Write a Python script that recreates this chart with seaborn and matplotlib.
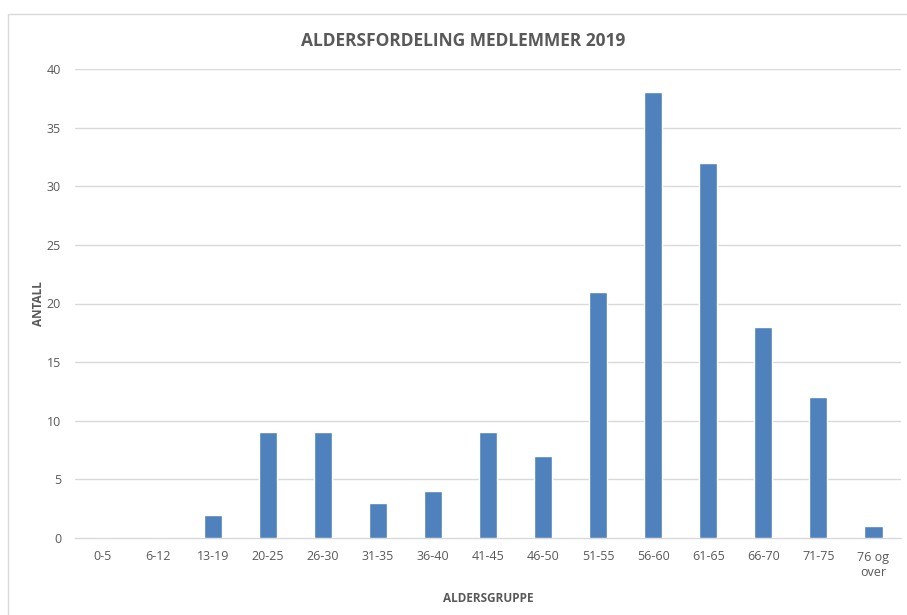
import matplotlib
matplotlib.use('Agg')
import matplotlib.pyplot as plt
import matplotlib.patches as patches
import pandas as pd
import seaborn as sns

categories = ['0-5', '6-12', '13-19', '20-25', '26-30', '31-35', '36-40', '41-45',
              '46-50', '51-55', '56-60', '61-65', '66-70', '71-75', '76 og\nover']
values = [0, 0, 2, 9, 9, 3, 4, 9, 7, 21, 38, 32, 18, 12, 1]
yticks = [0, 5, 10, 15, 20, 25, 30, 35, 40]

sns.set_theme(style="white")
plt.rcParams['font.family'] = ['Open Sans', 'DejaVu Sans']

df = pd.DataFrame({'Aldersgruppe': categories, 'Antall': values})

fig = plt.figure(figsize=(9.07, 6.15), dpi=100)
ax = fig.add_axes([75/907, 1 - 538/615, 826/907, (538 - 69)/615])

sns.barplot(data=df, x='Aldersgruppe', y='Antall', color='#4F81BD', saturation=1,
            width=0.33, ax=ax, zorder=3)

ax.set_xlim(-0.5, len(categories) - 0.5)
ax.set_ylim(0, 40)
ax.set_yticks(yticks)
for y in yticks[1:]:
    ax.axhline(y, color='#D9D9D9', lw=1, zorder=1)

for s in ['top', 'right', 'left']:
    ax.spines[s].set_visible(False)
ax.spines['bottom'].set_color('#D9D9D9')
ax.spines['bottom'].set_linewidth(1)

ax.tick_params(axis='both', length=0, labelsize=9, labelcolor='#595959')
ax.tick_params(axis='y', pad=10)
ax.tick_params(axis='x', pad=9)

ax.set_xlabel('ALDERSGRUPPE', fontsize=8.5, fontweight='bold', color='#595959', labelpad=10)
ax.set_ylabel('ANTALL', fontsize=8.5, fontweight='bold', color='#595959', labelpad=1)

fig.suptitle('ALDERSFORDELING MEDLEMMER 2019', x=463/907, y=1 - 32/615,
             fontsize=12.5, fontweight='bold', color='#595959')

# chart border (only left and top edges fall inside the image)
border = patches.Rectangle((8/907, -0.1), 1.1, 1.1 - 14/615, transform=fig.transFigure,
                           fill=False, edgecolor='#D9D9D9', lw=1)
fig.patches.append(border)

plt.savefig('out.png', dpi=100)
